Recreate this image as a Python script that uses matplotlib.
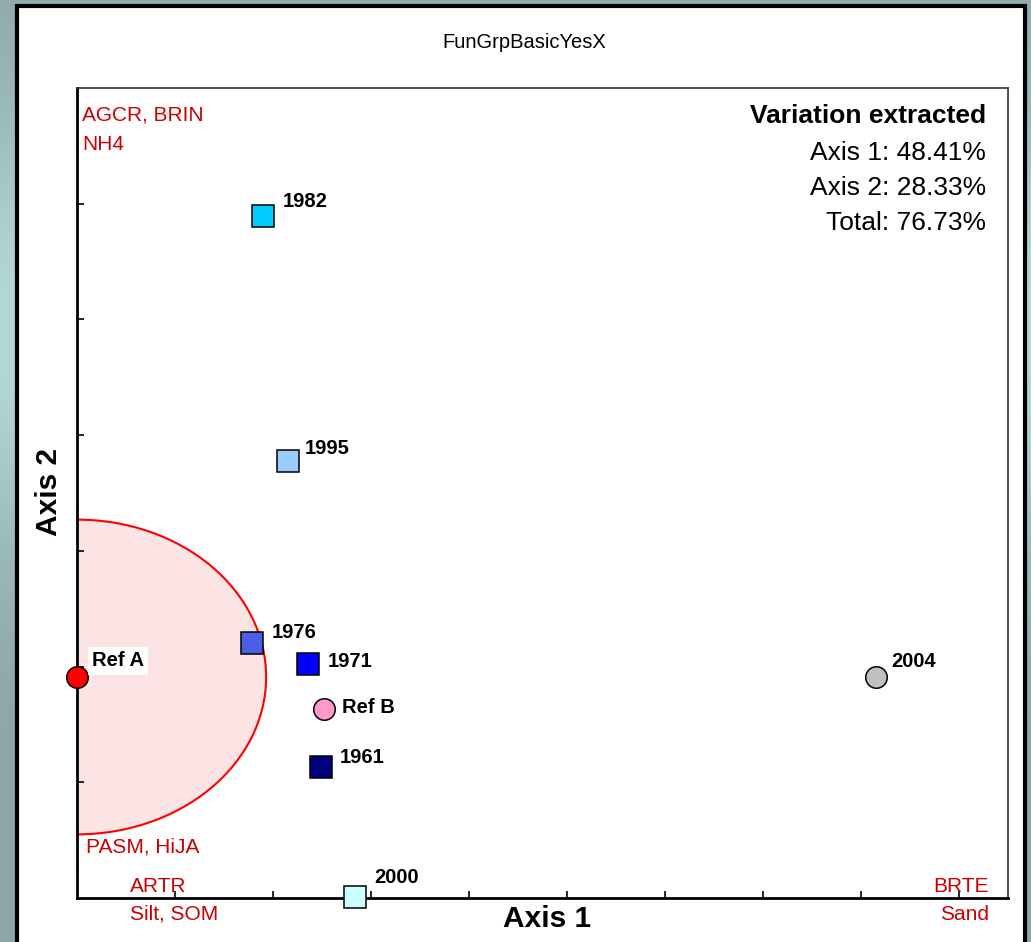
import matplotlib
matplotlib.use("Agg")
import matplotlib.pyplot as plt
from matplotlib.patches import Ellipse, Rectangle
import numpy as np

plt.rcParams['font.family'] = ['Liberation Sans', 'DejaVu Sans']

# ordinationsdata
namn = ["Ref A", "1976", "1971", "Ref B", "1961", "1982", "1995", "2000", "2004"]
axel1 = [0.0, 1.79, 2.36, 2.52, 2.49, 1.90, 2.15, 2.84, 8.15]
axel2 = [1.91, 2.20, 2.02, 1.63, 1.13, 5.89, 3.78, 0.01, 1.91]
form = ["o", "s", "s", "o", "s", "s", "s", "s", "o"]
farg = ["#FF0000", "#4A5FE6", "#0000FF", "#FF99CC", "#000080",
        "#00CCFF", "#99CCFF", "#CCFFFF", "#C0C0C0"]

forklarad = ["Axis 1: 48.41%", "Axis 2: 28.33%", "Total: 76.73%"]

# etikettens forskjutning i pixlar (x, y)
forskj = [(15, 16), (19, 11), (19, 3), (18, 2), (19, 10),
          (20, 15), (17, 12), (19, 19), (16, 15)]

W, H = 1031, 942
fig = plt.figure(figsize=(W / 100, H / 100), dpi=100)


def px(x, y):
    return x / W, 1 - y / H


# bakgrund med gradient
bg = fig.add_axes([0, 0, 1, 1])
bg.axis("off")
t = np.linspace(0, 1, 200)
r = 140 + 40 * np.exp(-((t - 0.35) / 0.25) ** 2)
g = 165 + 50 * np.exp(-((t - 0.35) / 0.25) ** 2)
b = 165 + 50 * np.exp(-((t - 0.35) / 0.25) ** 2)
img = np.stack([r, g, b], axis=1)[:, None, :] / 255.0
img = np.repeat(img, 2, axis=1)
bg.imshow(img, aspect="auto", extent=[0, 1, 0, 1])
bg.set_xlim(0, 1)
bg.set_ylim(0, 1)
bg.add_patch(Rectangle((17 / W, -0.01), (1025 - 17) / W, 1 - 6 / H + 0.01,
                       facecolor="white", edgecolor="black", lw=3,
                       transform=bg.transAxes))

ax = fig.add_axes([77 / W, 1 - 898 / H, (1008 - 77) / W, (898 - 88) / H])
ax.set_xlim(0, 9.5)
ax.set_ylim(0, 7)
ax.set_xticks(range(1, 10))
ax.set_yticks(range(1, 7))
ax.tick_params(direction="in", length=5, width=1.2, labelbottom=False, labelleft=False)
for s in ["left", "bottom"]:
    ax.spines[s].set_linewidth(2)
for s in ["top", "right"]:
    ax.spines[s].set_linewidth(1.2)
    ax.spines[s].set_color("#333333")
ax.set_facecolor("none")

# cirkel kring Ref A
ax.add_patch(Ellipse((axel1[0], axel2[0]), 2 * 1.93, 2 * 1.36,
                     facecolor="#FDE4E4", edgecolor="red", lw=1.5, zorder=1))

for i in range(len(namn)):
    ax.plot(axel1[i], axel2[i], marker=form[i], ms=15.5, mfc=farg[i],
            mec="black", mew=1.1, ls="none", clip_on=False, zorder=3)
    kw = {}
    if namn[i] == "Ref A":
        kw["bbox"] = dict(facecolor="white", edgecolor="none", pad=3)
    ax.annotate(namn[i], (axel1[i], axel2[i]), xytext=forskj[i],
                textcoords="offset pixels", fontsize=14.5, fontweight="bold",
                ha="left", va="center", zorder=4, annotation_clip=False, **kw)

# titel och axlar
fig.text(*px(524, 43), "FunGrpBasicYesX", fontsize=14.5, ha="center", va="center")
fig.text(*px(547, 919), "Axis 1", fontsize=21.5, fontweight="bold", ha="center", va="center")
fig.text(*px(49, 492), "Axis 2", fontsize=21.5, fontweight="bold", ha="center",
         va="center", rotation=90)

# variation
fig.text(*px(986, 116), "Variation extracted", fontsize=19, fontweight="bold",
         ha="right", va="center")
for k, s in enumerate(forklarad):
    fig.text(*px(986, 153 + 35 * k), s, fontsize=19, ha="right", va="center")

# roda etiketter
rod = "#CC0000"
fig.text(*px(82, 115), "AGCR, BRIN", fontsize=15, color=rod, va="center")
fig.text(*px(82, 144), "NH4", fontsize=15, color=rod, va="center")
fig.text(*px(86, 847), "PASM, HiJA", fontsize=15, color=rod, va="center")
fig.text(*px(130, 887), "ARTR", fontsize=15, color=rod, va="center")
fig.text(*px(130, 914), "Silt, SOM", fontsize=15, color=rod, va="center")
fig.text(*px(989, 887), "BRTE", fontsize=15, color=rod, va="center", ha="right")
fig.text(*px(989, 914), "Sand", fontsize=15, color=rod, va="center", ha="right")

fig.savefig("out.png", dpi=100)
